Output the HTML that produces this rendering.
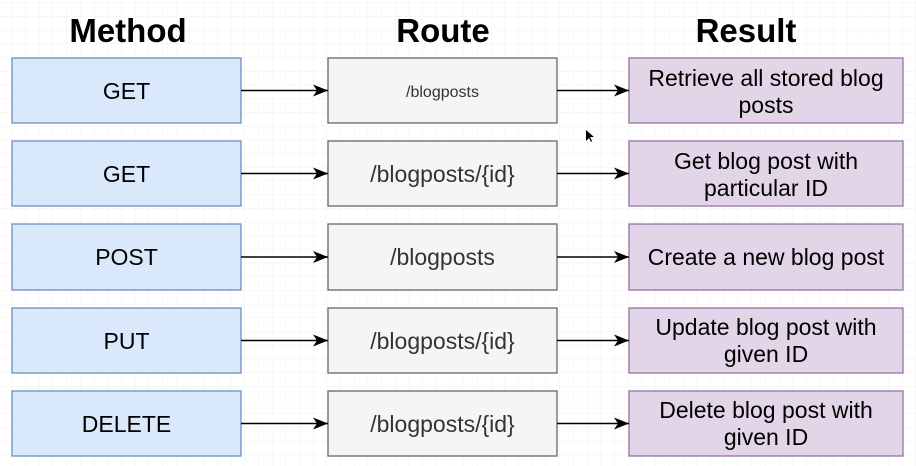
<!DOCTYPE html>
<html><head><style>
html,body{margin:0;padding:0;background:#fff}
svg{display:block}
text{font-family:"Liberation Sans",Arial,sans-serif;fill:#000}
</style></head><body>
<svg width="916" height="466" viewBox="0 0 916 466" xmlns="http://www.w3.org/2000/svg">
<defs>
<pattern id="g" width="13.7" height="13.7" patternUnits="userSpaceOnUse" x="12" y="3">
<path d="M13.7 0V13.7H0" fill="none" stroke="#f0f0f0" stroke-width="1"/>
</pattern>
<marker id="a" markerWidth="15" markerHeight="12" refX="15" refY="6" orient="auto" markerUnits="userSpaceOnUse">
<path d="M0 0L15 6L0 12L4 6Z" fill="#000"/>
</marker>
</defs>
<rect width="916" height="466" fill="url(#g)"/>
<g font-weight="bold" font-size="33" text-anchor="middle">
<text x="128" y="42">Method</text>
<text x="443" y="42">Route</text>
<text x="746" y="42">Result</text>
</g>
<g font-size="23" text-anchor="middle">
<rect x="12" y="58" width="229" height="65" fill="#dae8fc" stroke="#6c8ebf" stroke-width="1.3"/>
<text x="126.5" y="99">GET</text>
<rect x="328" y="58" width="229" height="65" fill="#f5f5f5" stroke="#666" stroke-width="1.3"/>
<text x="442.5" y="97" font-size="16" fill="#333" style="fill:#333">/blogposts</text>
<rect x="629" y="58" width="274" height="65" fill="#e1d5e7" stroke="#9673a6" stroke-width="1.3"/>
<text x="766" y="86">Retrieve all stored blog</text>
<text x="766" y="113">posts</text>

<rect x="12" y="141" width="229" height="65" fill="#dae8fc" stroke="#6c8ebf" stroke-width="1.3"/>
<text x="126.5" y="182">GET</text>
<rect x="328" y="141" width="229" height="65" fill="#f5f5f5" stroke="#666" stroke-width="1.3"/>
<text x="442.5" y="182" style="fill:#333">/blogposts/{id}</text>
<rect x="629" y="141" width="274" height="65" fill="#e1d5e7" stroke="#9673a6" stroke-width="1.3"/>
<text x="766" y="169">Get blog post with</text>
<text x="766" y="196">particular ID</text>

<rect x="12" y="224" width="229" height="66" fill="#dae8fc" stroke="#6c8ebf" stroke-width="1.3"/>
<text x="126.5" y="265">POST</text>
<rect x="328" y="224" width="229" height="66" fill="#f5f5f5" stroke="#666" stroke-width="1.3"/>
<text x="442.5" y="265" style="fill:#333">/blogposts</text>
<rect x="629" y="224" width="274" height="66" fill="#e1d5e7" stroke="#9673a6" stroke-width="1.3"/>
<text x="766" y="265">Create a new blog post</text>

<rect x="12" y="308" width="229" height="65" fill="#dae8fc" stroke="#6c8ebf" stroke-width="1.3"/>
<text x="126.5" y="349">PUT</text>
<rect x="328" y="308" width="229" height="65" fill="#f5f5f5" stroke="#666" stroke-width="1.3"/>
<text x="442.5" y="349" style="fill:#333">/blogposts/{id}</text>
<rect x="629" y="308" width="274" height="65" fill="#e1d5e7" stroke="#9673a6" stroke-width="1.3"/>
<text x="766" y="335">Update blog post with</text>
<text x="766" y="362">given ID</text>

<rect x="12" y="391" width="229" height="65" fill="#dae8fc" stroke="#6c8ebf" stroke-width="1.3"/>
<text x="126.5" y="432">DELETE</text>
<rect x="328" y="391" width="229" height="65" fill="#f5f5f5" stroke="#666" stroke-width="1.3"/>
<text x="442.5" y="432" style="fill:#333">/blogposts/{id}</text>
<rect x="629" y="391" width="274" height="65" fill="#e1d5e7" stroke="#9673a6" stroke-width="1.3"/>
<text x="766" y="418">Delete blog post with</text>
<text x="766" y="445">given ID</text>
</g>
<g stroke="#000" stroke-width="1.5" marker-end="url(#a)">
<line x1="241" y1="90.5" x2="328" y2="90.5"/>
<line x1="557" y1="90.5" x2="629" y2="90.5"/>
<line x1="241" y1="173.5" x2="328" y2="173.5"/>
<line x1="557" y1="173.5" x2="629" y2="173.5"/>
<line x1="241" y1="257" x2="328" y2="257"/>
<line x1="557" y1="257" x2="629" y2="257"/>
<line x1="241" y1="340.5" x2="328" y2="340.5"/>
<line x1="557" y1="340.5" x2="629" y2="340.5"/>
<line x1="241" y1="423.5" x2="328" y2="423.5"/>
<line x1="557" y1="423.5" x2="629" y2="423.5"/>
</g>
<path d="M586 130L586 141L589 138L591 142L592 141L590 137L594 137Z" fill="#000"/>
</svg>
</body></html>
